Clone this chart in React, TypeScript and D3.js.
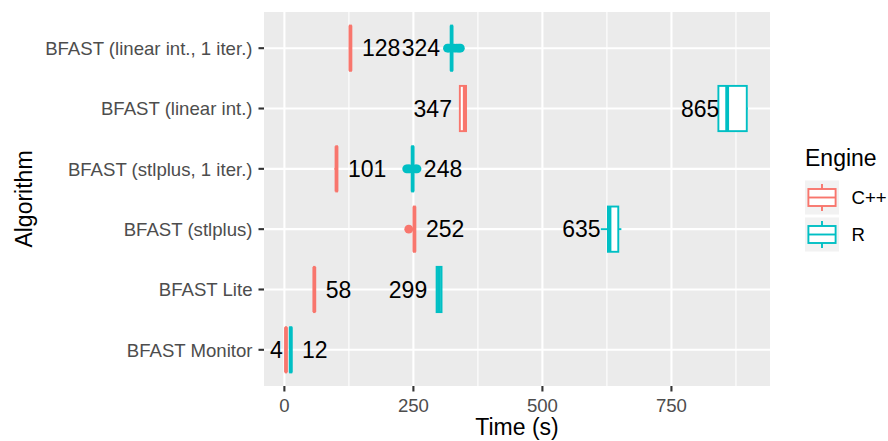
import React from 'react';
import * as d3 from 'd3';

// categories, top row first
const algorithms = [
  'BFAST (linear int., 1 iter.)',
  'BFAST (linear int.)',
  'BFAST (stlplus, 1 iter.)',
  'BFAST (stlplus)',
  'BFAST Lite',
  'BFAST Monitor',
];
const engines = ['C++', 'R'];

// [lower whisker, Q1, median, Q3, upper whisker] in seconds
const cppStats = [
  [126, 127, 128, 129, 130],
  [340, 340, 349.5, 352, 353],
  [97, 100.5, 101, 102, 103],
  [250, 251, 252, 253, 254],
  [57, 57.5, 58, 58.5, 59],
  [2.5, 2.8, 3.1, 3.4, 3.8],
];
const rStats = [
  [322, 323, 324, 325, 326],
  [838, 841, 858, 896, 898],
  [246, 247.5, 248.5, 249.5, 251],
  [613, 627, 630, 647, 653],
  [294, 295, 299.5, 304.5, 305],
  [10.5, 11, 12.3, 13.5, 14],
];
const cppOutliers = [[], [], [], [241], [], []];
const rOutliers = [
  [316, 319, 329, 334, 338, 341],
  [],
  [237, 240, 243, 254, 257],
  [],
  [],
  [],
];
// mean run time, shown as text label
const cppMeans = [128, 347, 101, 252, 58, 4];
const rMeans = [324, 865, 248, 635, 299, 12];
const cppLabelSide = ['right', 'left', 'right', 'right', 'right', 'left'];
const rLabelSide = ['left', 'left', 'right', 'left', 'left', 'right'];

const xTicks = [0, 250, 500, 750];
const xMinorTicks = [125, 375, 625, 875];
const xDomain = [-39.5, 941];

const colors = d3.scaleOrdinal<string, string>().domain(engines).range(['#F8766D', '#00BFC4']);

const FONT = '"Liberation Sans", Arial, Helvetica, sans-serif';

const App = () => {
  const width = 888;
  const height = 441;
  const panel = { left: 264, right: 770, top: 12, bottom: 386 };

  const x = d3.scaleLinear().domain(xDomain).range([panel.left, panel.right]);
  const y = d3.scalePoint<string>().domain(algorithms).range([panel.top, panel.bottom]).padding(0.6);
  const boxH = y.step() * 0.75;

  const groups = [
    { engine: 'C++', stats: cppStats, outliers: cppOutliers, means: cppMeans, sides: cppLabelSide },
    { engine: 'R', stats: rStats, outliers: rOutliers, means: rMeans, sides: rLabelSide },
  ];

  // label placement: gap from the mean, kept inside the panel (like repel does)
  const labelX = (v: number, right: boolean) => {
    if (right) return x(v) + 11.5;
    const w = String(v).length * 0.556 * 23;
    return Math.max(x(v) - 11.5, panel.left + 6 + w);
  };

  // legend geometry
  const legX = 805;
  const keySize = 34;
  const keyTops = [180.5, 217.5];

  return (
    <svg
      width={width}
      height={height}
      style={{ position: 'absolute', left: 0, top: 0, display: 'block', background: '#fff' }}
      fontFamily={FONT}
    >
      {/* panel */}
      <rect x={panel.left} y={panel.top} width={panel.right - panel.left} height={panel.bottom - panel.top} fill="#EBEBEB" />
      {xMinorTicks.map(t => (
        <line key={'mn' + t} x1={x(t)} x2={x(t)} y1={panel.top} y2={panel.bottom} stroke="#fff" strokeWidth={1.1} />
      ))}
      {xTicks.map(t => (
        <line key={'mj' + t} x1={x(t)} x2={x(t)} y1={panel.top} y2={panel.bottom} stroke="#fff" strokeWidth={2.1} />
      ))}
      {algorithms.map(a => (
        <line key={'yg' + a} x1={panel.left} x2={panel.right} y1={y(a)} y2={y(a)} stroke="#fff" strokeWidth={2.1} />
      ))}

      {/* boxplots */}
      {groups.map(g => (
        <g key={g.engine}>
          {algorithms.map((a, i) => {
            const [lo, q1, med, q3, hi] = g.stats[i];
            const cy = y(a) as number;
            const col = colors(g.engine);
            return (
              <g key={a}>
                <line x1={x(lo)} x2={x(q1)} y1={cy} y2={cy} stroke={col} strokeWidth={1.9} />
                <line x1={x(q3)} x2={x(hi)} y1={cy} y2={cy} stroke={col} strokeWidth={1.9} />
                <rect
                  x={x(q1)}
                  y={cy - boxH / 2}
                  width={Math.max(0, x(q3) - x(q1))}
                  height={boxH}
                  fill="#fff"
                  stroke={col}
                  strokeWidth={1.9}
                />
                <line x1={x(med)} x2={x(med)} y1={cy - boxH / 2} y2={cy + boxH / 2} stroke={col} strokeWidth={3.8} />
                {g.outliers[i].map((o, j) => (
                  <circle key={j} cx={x(o)} cy={cy} r={4.4} fill={col} />
                ))}
              </g>
            );
          })}
        </g>
      ))}

      {/* mean labels */}
      {groups.map(g =>
        algorithms.map((a, i) => {
          const right = g.sides[i] === 'right';
          return (
            <text
              key={g.engine + a}
              x={labelX(g.means[i], right)}
              y={y(a)}
              dy="0.36em"
              fontSize={23}
              textAnchor={right ? 'start' : 'end'}
              fill="#000"
            >
              {g.means[i]}
            </text>
          );
        })
      )}

      {/* y axis */}
      {algorithms.map(a => (
        <g key={'yt' + a}>
          <line x1={panel.left - 5.5} x2={panel.left} y1={y(a)} y2={y(a)} stroke="#333333" strokeWidth={2.1} />
          <text x={panel.left - 11.5} y={y(a)} dy="0.36em" textAnchor="end" fontSize={18.6} fill="#4D4D4D">
            {a}
          </text>
        </g>
      ))}

      {/* x axis */}
      {xTicks.map(t => (
        <g key={'xt' + t}>
          <line x1={x(t)} x2={x(t)} y1={panel.bottom} y2={panel.bottom + 5.5} stroke="#333333" strokeWidth={2.1} />
          <text x={x(t)} y={411.5} textAnchor="middle" fontSize={18.6} fill="#4D4D4D">
            {t}
          </text>
        </g>
      ))}

      {/* axis titles */}
      <text x={(panel.left + panel.right) / 2} y={435} textAnchor="middle" fontSize={23} fill="#000">
        Time (s)
      </text>
      <text
        transform={`translate(32,${(panel.top + panel.bottom) / 2}) rotate(-90)`}
        textAnchor="middle"
        fontSize={23}
        fill="#000"
      >
        Algorithm
      </text>

      {/* legend */}
      <text x={legX} y={166} fontSize={23} fill="#000">
        Engine
      </text>
      {engines.map((e, i) => {
        const top = keyTops[i];
        const col = colors(e);
        const cx = legX + keySize / 2;
        return (
          <g key={'leg' + e}>
            <rect x={legX} y={top} width={keySize} height={keySize} fill="#F2F2F2" />
            <line x1={cx} x2={cx} y1={top + keySize * 0.1} y2={top + keySize * 0.9} stroke={col} strokeWidth={1.9} />
            <rect
              x={legX + keySize * 0.1}
              y={top + keySize * 0.25}
              width={keySize * 0.8}
              height={keySize * 0.5}
              fill="#fff"
              stroke={col}
              strokeWidth={1.9}
            />
            <line
              x1={legX + keySize * 0.1}
              x2={legX + keySize * 0.9}
              y1={top + keySize / 2}
              y2={top + keySize / 2}
              stroke={col}
              strokeWidth={1.9}
            />
            <text x={851.5} y={top + keySize / 2} dy="0.36em" fontSize={18.6} fill="#000">
              {e}
            </text>
          </g>
        );
      })}
    </svg>
  );
};

export default App;
